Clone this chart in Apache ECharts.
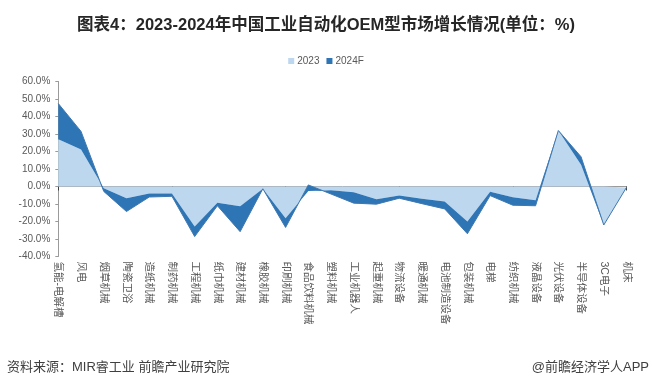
<!DOCTYPE html>
<html>
<head>
<meta charset="utf-8">
<script src="https://cdn.jsdelivr.net/npm/echarts@6/dist/echarts.min.js"></script>
<style>
html,body{margin:0;padding:0;background:#fff;}
#c{width:652px;height:387px;}
</style>
</head>
<body>
<div id="c"></div>
<script>
// Categories (x axis)
const categories = ['氢能-电解槽','风电','烟草机械','陶瓷卫浴','造纸机械','制药机械','工程机械','纸巾机械','建材机械','橡胶机械','印刷机械','食品饮料机械','塑料机械','工业机器人','起重机械','物流设备','暖通机械','电池制造设备','包装机械','电梯','纺织机械','液晶设备','光伏设备','半导体设备','3C电子','机床'];
// 2023 series values (%)
const values2023 = [27, 21.2, -1, -6.7, -4, -4, -22.8, -9.3, -11.3, -1.3, -18.2, -2.5, -2.1, -3.3, -7.3, -5.2, -7, -8.5, -20, -3, -6.2, -7.8, 32, 12.5, -22, -0.5];
// 2024F series values (%) as stacked on top of 2023 in the source chart
const values2024F = [20.4, 10.3, -1.8, -7.6, -2, -1.6, -5.8, -1.7, -14.5, 0, -5.2, 3.4, -2.2, -6.2, -2.8, -1.5, -2.8, -4.3, -7, -2.2, -4.5, -3.2, 0, 4.5, 0, 0];
// Y axis ticks
const yMin = -40, yMax = 60, yStep = 10;
const seriesNames = ['2023', '2024F'];

const FONT = '"Liberation Sans", Arial, "Noto Sans CJK SC", sans-serif';
const chart = echarts.init(document.getElementById('c'), null, {renderer: 'canvas'});
chart.setOption({
  animation: false,
  backgroundColor: '#ffffff',
  textStyle: {fontFamily: FONT},
  title: [{
    text: '图表4：2023-2024年中国工业自动化OEM型市场增长情况(单位：%)',
    left: 'center', top: 12,
    textStyle: {fontSize: 16.5, fontWeight: 'bold', color: '#262626', fontFamily: FONT}
  }],
  legend: {
    data: seriesNames,
    left: 'center', top: 51,
    itemWidth: 6, itemHeight: 6, itemGap: 7,
    icon: 'rect',
    textStyle: {fontSize: 10, color: '#595959', fontFamily: FONT, padding: [0,0,0,-2]}
  },
  grid: {left: 58.3, right: 25.5, top: 81.5, bottom: 130.5, containLabel: false},
  xAxis: [{
    type: 'category', data: categories, boundaryGap: false,
    axisLine: {onZero: true, lineStyle: {color: '#9a9a9a', width: 1}},
    axisTick: {show: true, length: 4, lineStyle: {color: '#404040'}},
    axisLabel: {show: false},
    splitLine: {show: false}
  }, {
    type: 'category', data: categories, boundaryGap: false, position: 'bottom',
    axisLine: {show: false, onZero: false},
    axisTick: {show: false},
    axisLabel: {show: true, rotate: -90, interval: 0, margin: 5, fontSize: 10.5, color: '#595959', fontFamily: FONT},
    splitLine: {show: false}
  }],
  yAxis: {
    type: 'value', min: yMin, max: yMax, interval: yStep,
    axisLine: {show: true, lineStyle: {color: '#9a9a9a'}},
    axisTick: {show: true, length: 3, lineStyle: {color: '#9a9a9a'}},
    splitLine: {show: false},
    axisLabel: {margin: 8, fontSize: 10, color: '#595959', fontFamily: FONT,
      formatter: v => v.toFixed(1) + '%'}
  },
  series: [{
    name: seriesNames[0], type: 'line', stack: 'g', stackStrategy: 'all',
    data: values2023, xAxisIndex: 0,
    showSymbol: false, symbol: 'none',
    itemStyle: {color: '#bdd7ee'},
    lineStyle: {width: 0, color: '#bdd7ee'},
    areaStyle: {color: '#bdd7ee', opacity: 1}
  }, {
    name: seriesNames[1], type: 'line', stack: 'g', stackStrategy: 'all',
    data: values2024F, xAxisIndex: 0,
    showSymbol: false, symbol: 'none',
    itemStyle: {color: '#2e75b6'},
    lineStyle: {width: 1, color: '#3f78b0'},
    areaStyle: {color: '#2e75b6', opacity: 1}
  }],
  graphic: [{
    type: 'text', left: 7, top: 361,
    style: {text: '资料来源：MIR睿工业 前瞻产业研究院', fontSize: 13, fill: '#404040', fontFamily: FONT}
  }, {
    type: 'text', right: 3, top: 361,
    style: {text: '@前瞻经济学人APP', fontSize: 13, fill: '#404040', fontFamily: FONT}
  }]
});
</script>
</body>
</html>
